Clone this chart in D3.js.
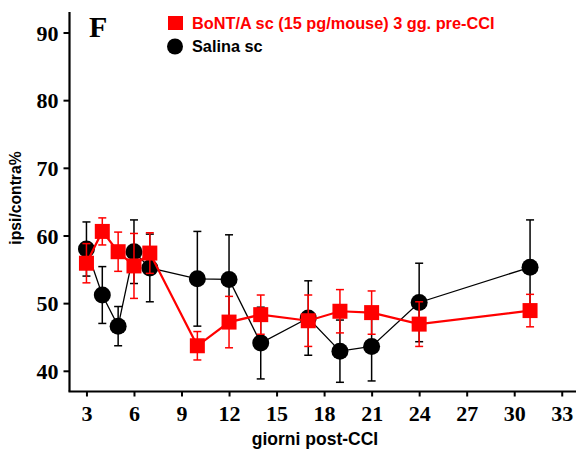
<!DOCTYPE html>
<html>
<head>
<meta charset="utf-8">
<script src="https://cdn.jsdelivr.net/npm/d3@7"></script>
<style>
  body { margin: 0; background: #fff; }
  .tick-label { font-family: "Liberation Serif", serif; font-weight: bold; font-size: 22px; }
  .label { font-family: "Liberation Sans", Arial, sans-serif; font-weight: bold; }
</style>
</head>
<body>
<script>
// days post-CCI
const days = [3, 4, 5, 6, 7, 10, 12, 14, 17, 19, 21, 24, 31]

// Salina sc (black circles)
const salina = [58.0, 51.2, 46.6, 57.6, 55.2, 53.6, 53.5, 44.1, 47.8, 42.9, 43.6, 50.1, 55.3]
const salinaErr = [4.0, 4.2, 2.9, 4.7, 5.0, 7.0, 6.6, 5.3, 5.5, 4.6, 5.1, 5.8, 7.0]

// BoNT/A sc (red squares)
const bont = [55.9, 60.6, 57.6, 55.5, 57.4, 43.7, 47.2, 48.3, 47.4, 48.8, 48.6, 46.9, 48.9]
const bontErr = [2.9, 2.0, 2.9, 4.8, 3.0, 2.1, 3.8, 2.9, 3.8, 3.2, 3.2, 3.3, 2.4]

const xTicks = [3, 6, 9, 12, 15, 18, 21, 24, 27, 30, 33]
const yTicks = [40, 50, 60, 70, 80, 90]

const width = 576
const height = 453
const left = 69.5
const bottom = 391.5

const svg = d3.select('body')
  .append('svg')
  .attr('width', width)
  .attr('height', height)

const xScale = d3.scaleLinear()
  .domain([1.93, 33.9])
  .range([left, 576])

const yScale = d3.scaleLinear()
  .domain([36.94, 93.03])
  .range([bottom, 12])

// y axis
const yAxis = d3.axisLeft(yScale)
  .tickValues(yTicks)
  .tickSize(6)
  .tickSizeOuter(0)
  .tickPadding(5)

const gy = svg.append('g')
  .attr('transform', `translate(${left}, 0)`)
  .call(yAxis)
gy.select('.domain').attr('stroke-width', 2.2).attr('d', `M0,${bottom}V12`)
gy.selectAll('.tick line').attr('stroke-width', 2)
gy.selectAll('.tick text').attr('class', 'tick-label').attr('fill', '#000').attr('dy', '0.35em')

// x axis
const xAxis = d3.axisBottom(xScale)
  .tickValues(xTicks)
  .tickSize(5)
  .tickSizeOuter(0)
  .tickPadding(6)

const gx = svg.append('g')
  .attr('transform', `translate(0, ${bottom})`)
  .call(xAxis)
gx.select('.domain').attr('stroke-width', 2.2).attr('d', `M${left - 1},0H576`)
gx.selectAll('.tick line').attr('stroke-width', 2)
gx.selectAll('.tick text').attr('class', 'tick-label').attr('fill', '#000').attr('dy', '0.85em')

// axis labels
svg.append('text')
  .attr('class', 'label')
  .attr('x', 315)
  .attr('y', 445)
  .attr('text-anchor', 'middle')
  .attr('font-size', 17.5)
  .text('giorni post-CCI')

svg.append('text')
  .attr('class', 'label')
  .attr('text-anchor', 'middle')
  .attr('font-size', 15.7)
  .attr('transform', `translate(21, 198) rotate(-90)`)
  .text('ipsi/contra%')

// panel letter
svg.append('text')
  .attr('x', 89)
  .attr('y', 37)
  .attr('font-family', '"Liberation Serif", serif')
  .attr('font-weight', 'bold')
  .attr('font-size', 30)
  .text('F')

function drawSeries(values, errs, color, lineWidth, shape) {
  const g = svg.append('g')
  const pts = days.map((d, i) => ({ x: d, y: values[i], e: errs[i] }))

  const line = d3.line()
    .x(d => xScale(d.x))
    .y(d => yScale(d.y))

  g.append('path')
    .datum(pts)
    .attr('d', line)
    .attr('fill', 'none')
    .attr('stroke', color)
    .attr('stroke-width', lineWidth)

  const eb = g.selectAll('g.err')
    .data(pts)
    .enter()
    .append('g')
    .attr('stroke', color)
    .attr('stroke-width', 1.5)

  eb.append('line')
    .attr('x1', d => xScale(d.x)).attr('x2', d => xScale(d.x))
    .attr('y1', d => yScale(d.y - d.e)).attr('y2', d => yScale(d.y + d.e))
  eb.append('line')
    .attr('x1', d => xScale(d.x) - 4).attr('x2', d => xScale(d.x) + 4)
    .attr('y1', d => yScale(d.y + d.e)).attr('y2', d => yScale(d.y + d.e))
  eb.append('line')
    .attr('x1', d => xScale(d.x) - 4).attr('x2', d => xScale(d.x) + 4)
    .attr('y1', d => yScale(d.y - d.e)).attr('y2', d => yScale(d.y - d.e))

  if (shape === 'circle') {
    g.selectAll('circle')
      .data(pts)
      .enter()
      .append('circle')
      .attr('cx', d => xScale(d.x))
      .attr('cy', d => yScale(d.y))
      .attr('r', 8.5)
      .attr('fill', color)
  } else {
    g.selectAll('rect')
      .data(pts)
      .enter()
      .append('rect')
      .attr('x', d => xScale(d.x) - 7.5)
      .attr('y', d => yScale(d.y) - 7.5)
      .attr('width', 15)
      .attr('height', 15)
      .attr('fill', color)
  }
}

drawSeries(salina, salinaErr, '#000', 1.3, 'circle')
drawSeries(bont, bontErr, '#ff0000', 2.2, 'square')

// legend
svg.append('rect')
  .attr('x', 168).attr('y', 16)
  .attr('width', 15).attr('height', 14)
  .attr('fill', '#ff0000')
svg.append('text')
  .attr('class', 'label')
  .attr('x', 192).attr('y', 29)
  .attr('font-size', 16.3)
  .attr('fill', '#ff0000')
  .text('BoNT/A sc (15 pg/mouse) 3 gg. pre-CCI')

svg.append('circle')
  .attr('cx', 175).attr('cy', 46.5)
  .attr('r', 8)
  .attr('fill', '#000')
svg.append('text')
  .attr('class', 'label')
  .attr('x', 192).attr('y', 52)
  .attr('font-size', 16.3)
  .attr('fill', '#000')
  .text('Salina sc')
</script>
</body>
</html>
